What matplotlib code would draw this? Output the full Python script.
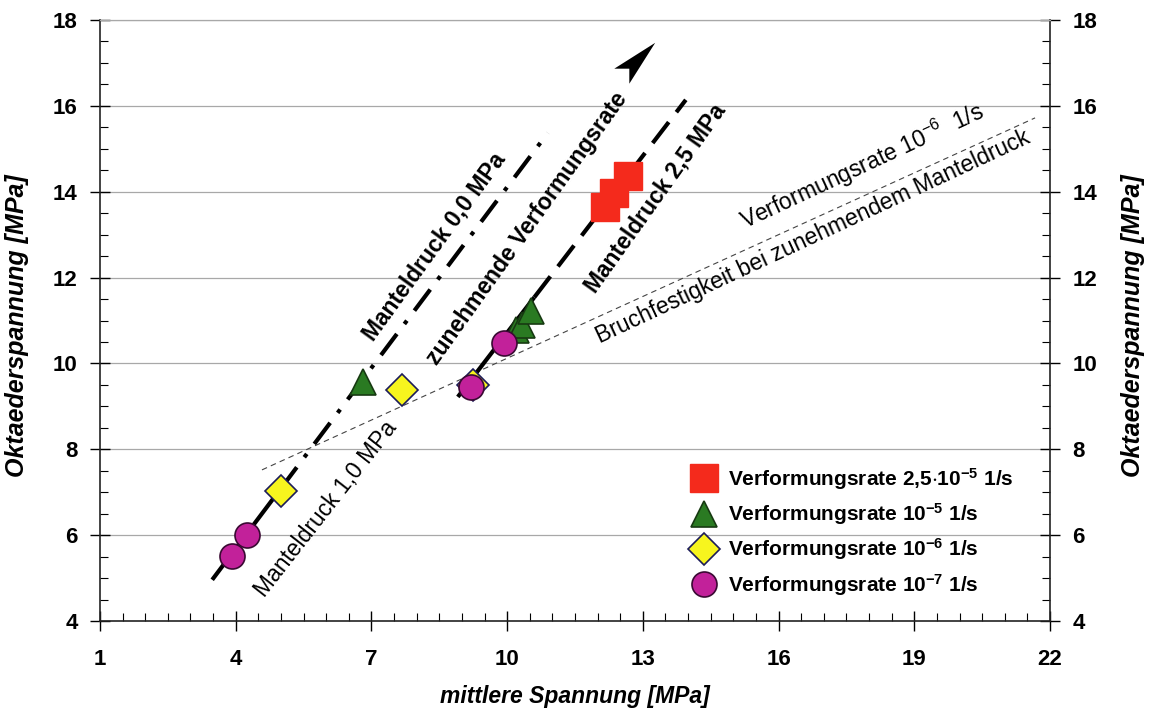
import matplotlib
matplotlib.use("Agg")
import matplotlib.pyplot as plt
from matplotlib.ticker import MultipleLocator
from matplotlib.path import Path
from matplotlib.markers import MarkerStyle
from matplotlib.transforms import Affine2D

plt.rcParams['font.family'] = ['Liberation Sans', 'DejaVu Sans']
plt.rcParams['mathtext.default'] = 'regular'
plt.rcParams['lines.scale_dashes'] = False

# Messpunkte (mittlere Spannung, Oktaederspannung)
rate_25e5_x = [12.16, 12.36, 12.67]
rate_25e5_y = [13.64, 13.97, 14.37]

rate_1e5_x = [6.81, 10.2, 10.33, 10.53]
rate_1e5_y = [9.57, 10.78, 10.9, 11.22]

rate_1e6_x = [5.0, 7.67, 9.24]
rate_1e6_y = [7.03, 9.38, 9.5]

rate_1e7_x = [3.92, 4.25, 9.2, 9.93]
rate_1e7_y = [5.51, 6.0, 9.45, 10.48]

# Ausgleichsgeraden
md00_solid_x = [3.48, 5.0]
md00_solid_y = [4.96, 7.09]
md00_dash_x = [5.0, 10.9]
md00_dash_y = [7.09, 15.37]

md25_solid_x = [8.91, 10.6]
md25_solid_y = [9.22, 11.54]
md25_dash_x = [10.6, 13.95]
md25_dash_y = [11.54, 16.14]

bruch_x = [4.58, 21.67]
bruch_y = [7.52, 15.72]

# Pfeilspitze "zunehmende Verformungsrate"
arrow_pos = (12.9, 17.08)
arrow_angle = 45

legend_labels = [
    r'Verformungsrate 2,5$\cdot$10$^{-5}$ 1/s',
    r'Verformungsrate 10$^{-5}$ 1/s',
    r'Verformungsrate 10$^{-6}$ 1/s',
    r'Verformungsrate 10$^{-7}$ 1/s',
]

x_ticks = [1, 4, 7, 10, 13, 16, 19, 22]
y_ticks = [4, 6, 8, 10, 12, 14, 16, 18]

fig = plt.figure(figsize=(11.54, 7.13), dpi=100)
ax = fig.add_axes([100 / 1154, 1 - 621 / 713, 950 / 1154, 601 / 713])

ax.set_xlim(1, 22)
ax.set_ylim(4, 18)

# horizontal grid only
for yv in y_ticks[1:]:
    ax.axhline(yv, color='#a8a8a8', lw=0.9, zorder=0)

# lines
ax.plot(md00_solid_x, md00_solid_y, color='black', lw=3, solid_capstyle='butt', zorder=2)
ax.plot(md00_dash_x, md00_dash_y, color='black', lw=3, zorder=2,
        linestyle=(0, (19, 9, 3, 9)), dash_capstyle='butt')
ax.plot(md25_solid_x, md25_solid_y, color='black', lw=3, solid_capstyle='butt', zorder=2)
ax.plot(md25_dash_x, md25_dash_y, color='black', lw=3, zorder=2,
        linestyle=(0, (19, 9)), dash_capstyle='butt')
ax.plot(bruch_x, bruch_y, color='#444444', lw=0.8, linestyle=(0, (4, 3)), zorder=1)

# stealth-style arrow head
head = Path([(1, 0), (-1, 0.45), (-0.55, 0), (-1, -0.45), (1, 0)],
            [Path.MOVETO, Path.LINETO, Path.LINETO, Path.LINETO, Path.CLOSEPOLY])
head_marker = MarkerStyle(head, transform=Affine2D().rotate_deg(arrow_angle))
ax.plot([arrow_pos[0]], [arrow_pos[1]], marker=head_marker, ms=34, color='black',
        mew=0, zorder=3)

# markers
ax.plot(rate_25e5_x, rate_25e5_y, 's', ms=20, color='#f42a1c', mec='#f42a1c', zorder=3,
        label=legend_labels[0])
ax.plot(rate_1e5_x, rate_1e5_y, '^', ms=19, color='#2a7a22', mec='#173a12', mew=1.2, zorder=3,
        label=legend_labels[1])
ax.plot(rate_1e6_x, rate_1e6_y, 'D', ms=16, color='#f7f51e', mec='#1c1c5a', mew=1.2, zorder=3,
        label=legend_labels[2])
ax.plot(rate_1e7_x, rate_1e7_y, 'o', ms=18, color='#c2219a', mec='#3a0a33', mew=1.2, zorder=4,
        label=legend_labels[3])

# annotations
ann = dict(ha='center', va='center', rotation_mode='anchor', fontsize=16.5)
ax.text(8.40, 12.71, 'Manteldruck 0,0 MPa', rotation=54, fontweight='bold', **ann)
ax.text(10.44, 13.15, 'zunehmende Verformungsrate', rotation=54.5, fontweight='bold', **ann)
ax.text(13.27, 13.85, 'Manteldruck 2,5 MPa', rotation=54.5, fontweight='bold', **ann)
ax.text(6.0, 6.61, 'Manteldruck 1,0 MPa', rotation=52, **ann)
ax.text(17.84, 14.6, r'Verformungsrate 10$^{-6}$  1/s', rotation=25, **ann)
ax.text(16.76, 12.95, 'Bruchfestigkeit bei zunehmendem Manteldruck', rotation=25, **ann)

# legend
leg = ax.legend(loc='upper left', bbox_to_anchor=(0.627, 0.258), frameon=False,
                borderaxespad=0, borderpad=0, handlelength=0.8, handletextpad=0.75,
                labelspacing=0.45, prop={'size': 15, 'weight': 'bold'})

# axes / ticks
ax.set_xticks(x_ticks)
ax.set_yticks(y_ticks)
ax.xaxis.set_minor_locator(MultipleLocator(0.5))
ax.yaxis.set_minor_locator(MultipleLocator(0.5))
ax.tick_params(which='major', direction='inout', length=14, width=1, pad=9,
               left=True, right=True, bottom=True, top=False,
               labelleft=True, labelright=True, labelsize=16)
ax.tick_params(which='minor', direction='in', length=6, width=0.8,
               left=True, right=True, bottom=True, top=False)
ax.tick_params(axis='x', which='major', pad=13)
for lbl in ax.get_xticklabels() + ax.get_yticklabels():
    lbl.set_fontweight('bold')

for side in ['left', 'right', 'bottom']:
    ax.spines[side].set_color('#222222')
    ax.spines[side].set_linewidth(1.2)
ax.spines['top'].set_color('#a8a8a8')
ax.spines['top'].set_linewidth(0.9)

fig.text(575 / 1154, 1 - 697 / 713, 'mittlere Spannung [MPa]', fontsize=16.5,
         fontweight='bold', style='italic', ha='center', va='center')
fig.text(17 / 1154, 1 - 326 / 713, 'Oktaederspannung [MPa]', rotation=90, fontsize=18,
         fontweight='bold', style='italic', ha='center', va='center')
fig.text(1133 / 1154, 1 - 326 / 713, 'Oktaederspannung [MPa]', rotation=90, fontsize=18,
         fontweight='bold', style='italic', ha='center', va='center')

fig.savefig('out.png', dpi=100)
